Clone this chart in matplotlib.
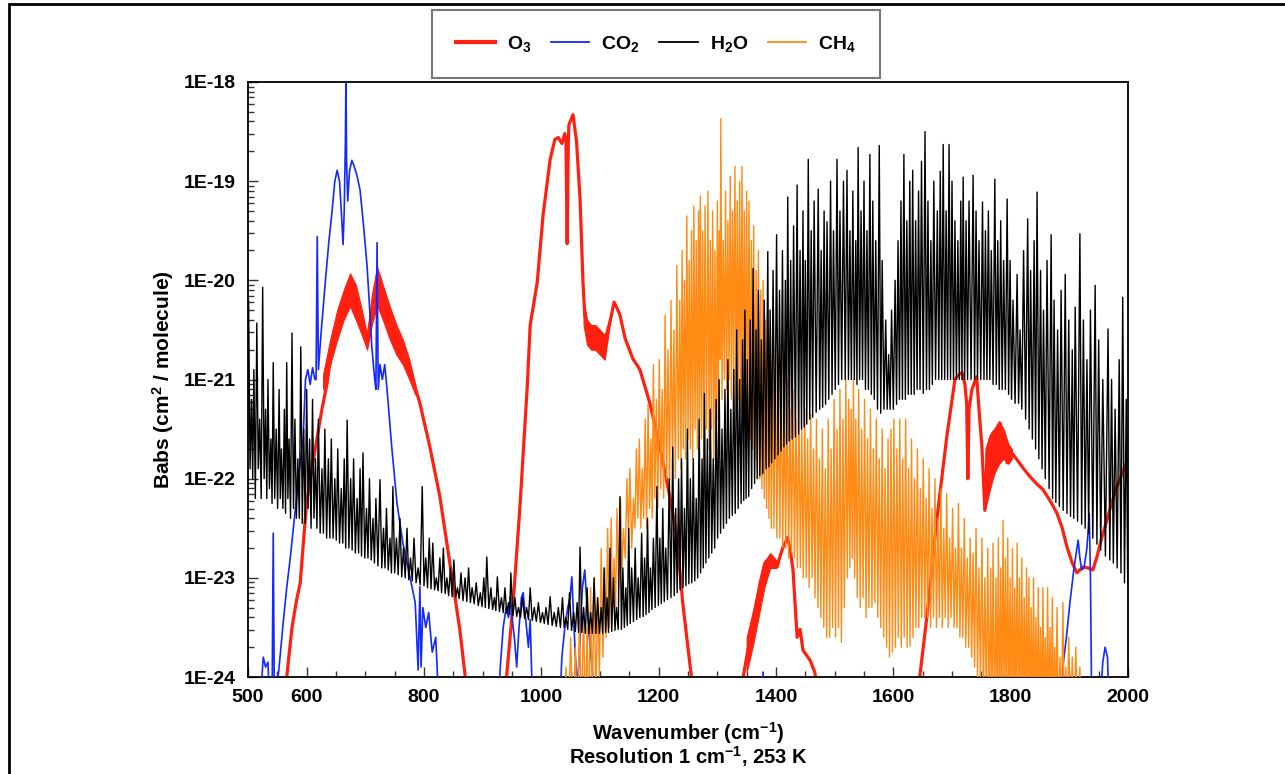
import numpy as np
import matplotlib
matplotlib.use("Agg")
import matplotlib.pyplot as plt
from matplotlib.lines import Line2D
from matplotlib.patches import Rectangle
from matplotlib.ticker import MultipleLocator, FixedLocator, FuncFormatter, NullFormatter

plt.rcParams['font.family'] = ['Liberation Sans', 'DejaVu Sans']
plt.rcParams['font.weight'] = 'bold'
plt.rcParams['mathtext.fontset'] = 'custom'
plt.rcParams['mathtext.rm'] = 'Liberation Sans:bold'
plt.rcParams['mathtext.it'] = 'Liberation Sans:bold'
plt.rcParams['mathtext.bf'] = 'Liberation Sans:bold'

# all values are log10(Babs) in cm^2/molecule
# O3: (wavenumber, log10 value)
o3_points = [
    (560, -24.5), (566, -24.0), (575, -23.5), (582, -23.25), (589, -23.05), (595, -22.6),
    (600, -22.24), (609, -21.9), (618, -21.58), (626, -21.3), (635, -21.03), (645, -20.6),
    (652, -20.4), (660, -20.3), (667, -20.15), (674, -20.05), (681, -20.2), (688, -20.3),
    (695, -20.45), (703, -20.63), (709, -20.4), (714, -20.2), (720, -20.05), (727, -20.15),
    (735, -20.3), (742, -20.4), (750, -20.55), (758, -20.7), (764, -20.75), (770, -20.85),
    (776, -20.9), (781, -21.0), (793, -21.24), (810, -21.68), (827, -22.18), (844, -22.85),
    (861, -23.52), (870, -23.98), (876, -24.5),
    (935, -24.5), (941, -23.98), (952, -23.25), (964, -22.24), (976, -21.07), (981, -20.45),
    (993, -20.02), (1003, -19.34), (1015, -18.78), (1023, -18.58), (1029, -18.56), (1035, -18.62),
    (1040, -18.52), (1042, -18.6), (1044, -19.63), (1046, -18.6), (1047, -18.43), (1054, -18.33),
    (1060, -18.6), (1066, -19.18), (1071, -20.02), (1074, -20.35), (1080, -20.52), (1088, -20.58),
    (1095, -20.55), (1102, -20.62), (1109, -20.69), (1113, -20.55), (1117, -20.42), (1124, -20.22),
    (1129, -20.28), (1134, -20.35), (1143, -20.59), (1156, -20.79), (1168, -20.9), (1185, -21.24),
    (1202, -21.68), (1219, -22.18), (1231, -22.59), (1241, -23.25), (1253, -23.86), (1258, -24.1),
    (1262, -24.5),
    (1340, -24.5), (1344, -24.0), (1356, -23.6), (1365, -23.3), (1373, -23.05), (1381, -22.85),
    (1390, -22.79), (1396, -22.82), (1402, -22.89), (1407, -22.78), (1412, -22.69), (1420, -22.59),
    (1425, -22.75), (1429, -22.92), (1433, -23.3), (1436, -23.6), (1441, -23.52), (1446, -23.73),
    (1458, -23.83), (1466, -23.95), (1470, -24.1), (1474, -24.5),
    (1640, -24.5), (1645, -24.0), (1657, -23.4), (1674, -22.42), (1691, -21.58), (1705, -21.0),
    (1712, -20.95), (1717, -20.93), (1722, -21.05), (1725, -21.24), (1727, -22.0), (1729, -21.3),
    (1734, -21.1), (1742, -20.97), (1746, -21.3), (1751, -21.68), (1756, -22.32), (1760, -21.74),
    (1765, -21.6), (1770, -21.54), (1776, -21.5), (1782, -21.44), (1788, -21.6), (1794, -21.84),
    (1802, -21.74), (1811, -21.81), (1822, -21.9), (1833, -21.98), (1844, -22.05), (1855, -22.11),
    (1867, -22.22), (1879, -22.35), (1888, -22.5), (1896, -22.69), (1905, -22.85), (1913, -22.95),
    (1918, -22.92), (1923, -22.89), (1932, -22.9), (1940, -22.92), (1947, -22.79), (1955, -22.6),
    (1964, -22.42), (1972, -22.25), (1981, -22.08), (1990, -21.95), (2000, -21.8),
]

# O3 regions where dense lines make a thick band: (wavenumber, upper, lower)
o3_band_v2 = [
    (628, -20.95, -21.1), (640, -20.6, -20.85), (652, -20.3, -20.6), (663, -20.1, -20.4),
    (674, -19.93, -20.26), (684, -20.05, -20.4), (694, -20.3, -20.55), (703, -20.55, -20.7),
    (711, -20.15, -20.45), (720, -19.86, -20.25), (730, -20.05, -20.4), (742, -20.27, -20.6),
    (753, -20.45, -20.75), (764, -20.6, -20.85), (775, -20.8, -21.0), (785, -21.05, -21.15),
]
o3_band_1080 = [
    (1072, -20.2, -20.45), (1078, -20.4, -20.65), (1085, -20.45, -20.7), (1092, -20.45, -20.7),
    (1100, -20.5, -20.75), (1108, -20.55, -20.8), (1115, -20.4, -20.5),
]
o3_band_1380 = [
    (1350, -23.6, -23.95), (1360, -23.35, -23.7), (1370, -23.1, -23.4), (1380, -22.85, -23.1),
    (1390, -22.75, -22.9), (1400, -22.82, -22.9),
]
o3_band_1780 = [
    (1757, -21.7, -22.3), (1765, -21.55, -22.1), (1772, -21.5, -21.95), (1780, -21.42, -21.85),
    (1788, -21.5, -21.8), (1796, -21.65, -21.85), (1802, -21.7, -21.8),
]

# CO2: (wavenumber, log10 value)
co2_points = [
    (518, -24.5), (526, -23.8), (530, -23.9), (534, -23.85), (537, -24.3), (541, -24.3),
    (543, -22.55), (545, -24.3), (548, -24.2), (553, -23.9), (560, -23.45), (566, -23.1),
    (572, -22.8), (580, -22.35), (587, -21.95), (594, -21.58), (598, -21.0), (602, -20.9),
    (606, -21.05), (610, -20.88), (614, -21.0), (616, -21.0), (618, -19.56), (620, -20.9),
    (625, -20.5), (632, -20.0), (638, -19.6), (643, -19.32), (648, -19.0), (652, -18.89),
    (656, -19.0), (659, -19.3), (662, -19.64), (664, -19.3), (666, -18.6), (667, -17.9),
    (668, -18.8), (670, -19.2), (673, -18.9), (677, -18.79), (681, -18.85), (686, -18.95),
    (691, -19.09), (697, -19.45), (703, -19.86), (707, -20.25), (711, -20.67), (716, -21.0),
    (718, -21.1), (720, -19.62), (722, -21.1), (725, -20.85), (729, -21.0), (733, -20.85),
    (737, -21.1), (745, -21.68), (754, -22.25), (764, -22.65), (776, -22.99), (785, -23.25),
    (790, -23.93), (793, -23.09), (795, -23.9), (798, -23.3), (803, -23.5), (808, -23.35),
    (814, -23.75), (820, -23.6), (827, -24.5),
    (925, -24.5), (930, -23.9), (935, -23.5), (940, -23.3), (944, -23.4), (947, -23.19),
    (950, -23.4), (954, -23.6), (958, -23.9), (962, -23.5), (966, -23.2), (969, -23.15),
    (973, -23.4), (978, -23.7), (981, -23.42), (986, -24.5),
    (1030, -24.5), (1035, -23.8), (1040, -23.5), (1045, -23.3), (1049, -23.2), (1052, -22.99),
    (1055, -23.4), (1058, -23.8), (1062, -24.1), (1066, -23.6), (1070, -23.1), (1074, -22.92),
    (1078, -23.3), (1083, -23.7), (1088, -24.0), (1091, -24.5),
    (1375, -24.5), (1378, -23.95), (1381, -24.5),
    (1885, -24.5), (1889, -23.9), (1895, -23.6), (1901, -23.25), (1908, -22.9), (1915, -22.62),
    (1918, -22.8), (1921, -22.92), (1925, -22.9), (1930, -22.7), (1934, -22.35), (1936, -23.0),
    (1938, -24.2), (1950, -24.5), (1957, -23.85), (1961, -23.7), (1965, -23.8), (1969, -24.5),
    (2000, -24.5),
]

# H2O lines: (wavenumber, peak, trough before the line)
h2o_lines = [
    (501, -20.2, -22.15), (506, -21.2, -21.9), (510, -20.9, -22.0), (515, -20.43, -22.2),
    (520, -21.4, -21.9), (525, -20.07, -22.2), (530, -21.3, -22.0), (534, -21.0, -22.2),
    (539, -21.6, -22.1), (543, -20.83, -22.25), (548, -21.5, -22.2), (553, -21.1, -22.3),
    (557, -21.7, -22.2), (562, -21.3, -22.3), (566, -20.83, -22.35), (570, -21.6, -22.2),
    (575, -20.53, -22.4), (580, -21.4, -22.3), (585, -21.8, -22.4), (590, -20.67, -22.4),
    (595, -21.5, -22.45), (600, -21.1, -22.45), (605, -21.6, -22.3), (610, -21.2, -22.5),
    (615, -21.8, -22.4), (620, -21.4, -22.5), (626, -21.9, -22.55), (631, -21.5, -22.55),
    (637, -21.8, -22.6), (642, -21.6, -22.6), (648, -22.0, -22.6), (653, -21.7, -22.62),
    (659, -22.1, -22.65), (664, -21.8, -22.65), (669, -21.41, -22.7), (675, -22.0, -22.7),
    (680, -21.8, -22.72), (686, -22.2, -22.75), (691, -21.9, -22.75), (696, -21.74, -22.78),
    (702, -22.3, -22.8), (707, -22.0, -22.8), (713, -22.4, -22.82), (718, -22.2, -22.85),
    (725, -22.01, -22.88), (731, -22.5, -22.9), (736, -22.3, -22.9), (742, -22.6, -22.92),
    (747, -22.08, -22.95), (753, -22.6, -22.95), (759, -22.4, -22.97), (765, -22.7, -22.99),
    (771, -22.5, -23.0), (777, -22.8, -23.02), (783, -22.6, -23.03), (790, -22.9, -23.05),
    (797, -22.08, -23.07), (803, -22.8, -23.08), (809, -22.6, -23.1), (815, -22.65, -23.11),
    (821, -23.0, -23.12), (827, -22.8, -23.13), (833, -22.7, -23.15), (839, -23.0, -23.16),
    (845, -22.9, -23.18), (851, -22.82, -23.19), (857, -23.1, -23.2), (863, -22.95, -23.21),
    (870, -23.0, -23.23), (876, -22.9, -23.24), (882, -23.1, -23.25), (889, -23.05, -23.26),
    (896, -23.15, -23.28), (902, -23.0, -23.29), (907, -22.79, -23.3), (914, -23.1, -23.31),
    (920, -23.2, -23.32), (925, -22.99, -23.33), (932, -23.2, -23.34), (938, -23.1, -23.35),
    (944, -23.25, -23.36), (948, -22.95, -23.37), (955, -23.2, -23.38), (961, -23.3, -23.39),
    (968, -23.2, -23.4), (975, -23.3, -23.41), (981, -23.1, -23.42), (988, -23.3, -23.43),
    (995, -23.25, -23.44), (1002, -23.35, -23.45), (1008, -23.3, -23.46), (1015, -23.19, -23.47),
    (1022, -23.35, -23.48), (1029, -23.3, -23.49), (1036, -23.2, -23.5), (1042, -23.4, -23.5),
    (1048, -23.15, -23.52), (1055, -23.35, -23.53), (1061, -23.25, -23.54), (1066, -22.69, -23.55),
    (1072, -23.3, -23.55), (1078, -23.1, -23.56), (1084, -23.35, -23.56), (1090, -23.0, -23.56),
    (1096, -23.2, -23.56), (1102, -23.3, -23.56), (1107, -22.9, -23.56), (1112, -23.2, -23.55),
    (1117, -22.7, -23.55), (1123, -23.0, -23.54), (1128, -23.3, -23.53), (1134, -22.18, -23.52),
    (1139, -22.9, -23.52), (1144, -23.1, -23.5), (1149, -22.5, -23.48), (1154, -22.9, -23.46),
    (1160, -22.7, -23.44), (1165, -23.0, -23.42), (1171, -22.55, -23.4), (1176, -22.8, -23.39),
    (1181, -22.4, -23.37), (1186, -22.9, -23.35), (1191, -22.6, -23.32), (1197, -22.08, -23.3),
    (1202, -22.6, -23.28), (1207, -22.3, -23.26), (1212, -22.7, -23.24), (1218, -22.0, -23.22),
    (1224, -21.68, -23.2), (1229, -22.3, -23.18), (1234, -22.0, -23.15), (1239, -21.8, -23.12),
    (1244, -22.3, -23.1), (1249, -21.5, -23.08), (1254, -22.0, -23.06), (1259, -21.8, -23.05),
    (1264, -22.2, -23.03), (1269, -21.4, -23.0), (1274, -21.8, -22.95), (1278, -21.14, -22.9),
    (1283, -21.6, -22.85), (1288, -21.3, -22.8), (1293, -21.8, -22.75), (1298, -21.2, -22.7),
    (1303, -21.0, -22.6), (1308, -21.5, -22.55), (1313, -21.1, -22.5), (1318, -20.8, -22.45),
    (1323, -21.3, -22.4), (1328, -20.9, -22.37), (1333, -20.5, -22.35), (1338, -21.0, -22.3),
    (1343, -20.6, -22.25), (1347, -20.3, -22.22), (1351, -20.8, -22.2), (1356, -20.4, -22.18),
    (1361, -19.88, -22.1), (1366, -20.5, -22.05), (1370, -20.1, -22.0), (1375, -20.6, -21.97),
    (1380, -20.2, -21.95), (1386, -19.71, -21.9), (1390, -20.3, -21.88), (1395, -19.9, -21.84),
    (1401, -19.54, -21.8), (1406, -20.1, -21.76), (1411, -19.7, -21.72), (1416, -20.0, -21.68),
    (1420, -19.16, -21.65), (1425, -19.8, -21.62), (1430, -19.45, -21.6), (1436, -19.04, -21.58),
    (1441, -19.7, -21.55), (1446, -19.3, -21.5), (1450, -19.8, -21.48), (1455, -18.78, -21.45),
    (1460, -19.5, -21.4), (1465, -19.2, -21.38), (1472, -19.08, -21.33), (1477, -19.7, -21.3),
    (1482, -19.3, -21.28), (1487, -19.41, -21.25), (1493, -19.0, -21.2), (1498, -19.5, -21.15),
    (1504, -18.78, -21.1), (1509, -19.3, -21.05), (1515, -19.0, -21.0), (1521, -18.89, -21.0),
    (1526, -19.5, -21.0), (1531, -19.1, -21.0), (1536, -19.6, -21.0), (1540, -18.66, -21.05),
    (1545, -19.3, -21.0), (1550, -19.0, -21.0), (1555, -19.5, -21.1), (1560, -18.73, -21.1),
    (1565, -19.2, -21.15), (1570, -19.6, -21.2), (1576, -18.64, -21.3), (1581, -19.8, -21.34),
    (1587, -20.4, -21.3), (1592, -20.75, -21.3), (1597, -20.3, -21.3), (1603, -20.0, -21.3),
    (1608, -19.6, -21.25), (1613, -19.2, -21.2), (1618, -18.73, -21.2), (1623, -19.4, -21.2),
    (1628, -19.0, -21.15), (1633, -18.89, -21.15), (1638, -19.4, -21.15), (1643, -19.1, -21.1),
    (1648, -18.8, -21.1), (1654, -18.5, -21.14), (1659, -19.2, -21.1), (1664, -19.6, -21.1),
    (1669, -19.0, -21.05), (1675, -19.3, -21.0), (1680, -18.9, -21.0), (1685, -18.63, -21.0),
    (1690, -19.3, -21.0), (1695, -18.63, -21.0), (1700, -19.0, -21.0), (1705, -19.4, -21.0),
    (1710, -19.6, -21.0), (1715, -19.2, -21.0), (1719, -18.96, -21.0), (1724, -19.4, -21.0),
    (1729, -19.2, -21.0), (1736, -18.94, -21.0), (1741, -19.3, -21.0), (1746, -19.6, -21.0),
    (1752, -19.21, -21.0), (1757, -19.5, -21.0), (1762, -19.3, -21.0), (1767, -19.7, -21.0),
    (1773, -18.98, -21.05), (1778, -19.6, -21.05), (1783, -19.4, -21.1), (1788, -19.8, -21.1),
    (1794, -19.18, -21.1), (1799, -19.8, -21.15), (1804, -20.2, -21.2), (1811, -19.94, -21.24),
    (1816, -20.5, -21.24), (1822, -19.7, -21.3), (1829, -19.38, -21.4), (1834, -19.9, -21.5),
    (1840, -19.6, -21.6), (1845, -19.11, -21.7), (1851, -19.9, -21.8), (1856, -20.3, -21.9),
    (1862, -19.8, -22.0), (1869, -19.54, -22.1), (1874, -20.2, -22.2), (1880, -20.5, -22.24),
    (1886, -20.1, -22.28), (1893, -19.94, -22.32), (1899, -20.4, -22.35), (1905, -20.7, -22.38),
    (1910, -20.27, -22.4), (1918, -19.53, -22.43), (1924, -20.4, -22.46), (1930, -20.8, -22.5),
    (1936, -20.3, -22.55), (1944, -20.05, -22.6), (1950, -20.6, -22.66), (1957, -21.0, -22.72),
    (1966, -20.49, -22.78), (1972, -21.0, -22.82), (1978, -21.3, -22.85), (1985, -20.8, -22.9),
    (1991, -20.17, -22.95), (1997, -21.2, -23.05),
]

# CH4 lines: (wavenumber, peak, trough before the line)
ch4_lines = [
    (1042, -23.9, -24.5), (1050, -23.6, -24.5), (1058, -23.7, -24.5), (1065, -23.4, -24.5),
    (1072, -23.3, -24.5), (1078, -23.5, -24.5), (1084, -23.1, -24.5), (1090, -23.0, -24.3),
    (1096, -23.2, -24.2), (1102, -22.7, -24.0), (1108, -22.9, -23.8), (1113, -22.5, -23.6),
    (1119, -22.4, -23.5), (1124, -22.8, -23.3), (1129, -22.3, -23.3), (1135, -22.2, -23.1),
    (1140, -22.5, -22.9), (1146, -22.0, -22.8), (1151, -21.9, -22.6), (1157, -22.2, -22.7),
    (1162, -21.7, -22.5), (1167, -21.6, -22.4), (1172, -21.9, -22.5), (1177, -21.4, -22.4),
    (1182, -21.25, -22.5), (1187, -21.6, -22.3), (1191, -20.85, -22.4), (1196, -21.2, -22.2),
    (1201, -20.8, -22.3), (1206, -21.1, -22.1), (1211, -20.35, -22.2), (1216, -20.7, -22.0),
    (1221, -20.2, -22.1), (1226, -20.5, -21.9), (1231, -19.85, -22.0), (1236, -20.2, -21.8),
    (1240, -19.7, -21.9), (1244, -20.0, -21.7), (1248, -19.35, -21.8), (1252, -19.8, -21.6),
    (1256, -19.5, -21.7), (1260, -19.25, -21.8), (1264, -19.6, -21.5), (1268, -19.3, -21.7),
    (1271, -19.15, -21.4), (1275, -19.5, -21.6), (1279, -19.25, -21.8), (1284, -19.1, -21.5),
    (1288, -19.6, -21.7), (1292, -19.3, -21.5), (1296, -19.7, -21.8), (1300, -19.2, -21.6),
    (1303, -19.5, -21.4), (1306, -18.37, -20.8), (1310, -19.6, -21.2), (1314, -19.1, -21.0),
    (1318, -19.4, -21.1), (1322, -18.95, -21.0), (1326, -19.3, -21.2), (1330, -18.85, -21.0),
    (1334, -19.2, -21.3), (1338, -19.0, -21.2), (1342, -18.85, -21.3), (1346, -19.3, -21.3),
    (1350, -19.1, -21.5), (1354, -19.2, -21.4), (1358, -19.6, -21.6), (1362, -19.45, -21.7),
    (1366, -19.9, -21.8), (1370, -19.7, -21.9), (1374, -20.1, -22.0), (1378, -20.0, -22.1),
    (1382, -20.4, -22.2), (1386, -20.3, -22.3), (1390, -20.55, -22.4), (1394, -20.8, -22.5),
    (1399, -20.7, -22.5), (1404, -21.0, -22.6), (1409, -20.9, -22.6), (1414, -21.2, -22.7),
    (1419, -21.0, -22.7), (1424, -21.3, -22.8), (1429, -21.1, -22.75), (1434, -21.4, -22.8),
    (1439, -21.2, -22.9), (1444, -21.5, -22.9), (1449, -21.3, -23.0), (1454, -21.6, -23.0),
    (1459, -21.35, -23.1), (1464, -21.7, -23.0), (1469, -21.4, -23.2), (1474, -21.8, -23.3),
    (1479, -21.5, -23.4), (1484, -21.9, -23.5), (1489, -21.4, -23.6), (1494, -21.7, -23.6),
    (1499, -21.2, -23.5), (1504, -21.5, -23.6), (1509, -21.1, -23.5), (1514, -21.4, -23.65),
    (1519, -21.0, -23.3), (1524, -21.2, -23.0), (1528, -21.3, -22.9), (1532, -21.0, -22.8),
    (1536, -21.4, -23.0), (1541, -21.1, -23.2), (1546, -21.5, -23.3), (1551, -21.2, -23.2),
    (1556, -21.6, -23.4), (1561, -21.3, -23.3), (1566, -21.7, -23.3), (1571, -21.4, -23.25),
    (1576, -21.8, -23.4), (1581, -21.5, -23.5), (1586, -21.9, -23.6), (1591, -21.6, -23.7),
    (1596, -21.5, -23.8), (1601, -21.4, -23.75), (1606, -21.7, -23.7), (1611, -21.4, -23.6),
    (1616, -21.8, -23.7), (1621, -21.4, -23.6), (1626, -21.9, -23.7), (1631, -21.6, -23.69),
    (1636, -22.0, -23.6), (1641, -21.7, -23.5), (1646, -22.1, -23.5), (1651, -21.8, -23.4),
    (1656, -22.2, -23.4), (1661, -21.9, -23.4), (1666, -22.3, -23.5), (1671, -22.0, -23.4),
    (1676, -22.4, -23.5), (1681, -22.1, -23.4), (1686, -22.5, -23.5), (1691, -22.15, -23.4),
    (1696, -22.6, -23.5), (1701, -22.3, -23.4), (1706, -22.7, -23.5), (1711, -22.25, -23.5),
    (1716, -22.7, -23.6), (1721, -22.4, -23.6), (1726, -22.8, -23.7), (1731, -22.6, -23.7),
    (1736, -22.75, -23.8), (1741, -22.5, -23.9), (1746, -22.9, -24.0), (1751, -22.6, -24.1),
    (1756, -23.0, -24.2), (1761, -22.7, -24.3), (1766, -22.9, -24.5), (1770, -22.65, -24.5),
    (1775, -23.0, -24.5), (1779, -22.6, -24.5), (1783, -22.9, -24.5), (1787, -22.42, -24.5),
    (1791, -22.8, -24.5), (1795, -22.6, -24.5), (1799, -23.0, -24.5), (1803, -22.7, -24.5),
    (1807, -23.1, -24.5), (1811, -22.65, -24.5), (1815, -23.0, -24.5), (1819, -22.8, -24.5),
    (1823, -23.2, -24.5), (1827, -22.9, -24.5), (1831, -23.0, -24.5), (1835, -23.3, -24.5),
    (1839, -23.0, -24.5), (1843, -23.4, -24.5), (1847, -23.1, -24.5), (1851, -23.5, -24.5),
    (1855, -23.1, -24.5), (1859, -23.6, -24.5), (1863, -23.1, -24.5), (1867, -23.5, -24.5),
    (1871, -23.2, -24.5), (1875, -23.7, -24.5), (1879, -23.3, -24.5), (1884, -23.8, -24.5),
    (1889, -23.25, -24.5), (1894, -23.9, -24.5), (1899, -23.6, -24.5), (1905, -23.8, -24.5),
    (1911, -23.7, -24.5), (1918, -23.9, -24.5),
]

legend_labels = ['O$_3$', 'CO$_2$', 'H$_2$O', 'CH$_4$']
colors = {'O3': '#ff2010', 'CO2': '#1428ff', 'H2O': '#000000', 'CH4': '#ff8a14'}
x_ticks = [500, 600, 800, 1000, 1200, 1400, 1600, 1800, 2000]
y_decades = [-24, -23, -22, -21, -20, -19, -18]


def curve(points):
    wn, lg = np.array(points, dtype=float).T
    return wn, 10.0 ** lg


def line_spectrum(lines):
    # zig-zag through trough -> peak for every line
    wn, peak, foot = np.array(lines, dtype=float).T
    mids = np.concatenate([[wn[0] - 2.5], (wn[:-1] + wn[1:]) / 2])
    x = np.column_stack([mids, wn]).ravel()
    y = np.column_stack([foot, peak]).ravel()
    x = np.append(x, wn[-1] + 2.5)
    y = np.append(y, foot[-1])
    return x, 10.0 ** y


def band(ax, rows, color, z):
    wn, hi, lo = np.array(rows, dtype=float).T
    ax.fill_between(wn, 10.0 ** lo, 10.0 ** hi, color=color, lw=0.8, zorder=z)


W, H = 1285, 774
fig = plt.figure(figsize=(W / 100, H / 100), dpi=100)
ax = fig.add_axes([248 / W, 1 - 677 / H, 880 / W, 595 / H])

x, y = curve(o3_points)
ax.plot(x, y, color=colors['O3'], lw=2.3, zorder=2)
for rows in (o3_band_v2, o3_band_1080, o3_band_1380, o3_band_1780):
    band(ax, rows, colors['O3'], 2)

x, y = curve(co2_points)
ax.plot(x, y, color=colors['CO2'], lw=1.2, zorder=3)

x, y = line_spectrum(ch4_lines)
ax.plot(x, y, color=colors['CH4'], lw=1.0, zorder=4)

x, y = line_spectrum(h2o_lines)
ax.plot(x, y, color=colors['H2O'], lw=1.0, zorder=5)

ax.set_yscale('log')
ax.set_xlim(500, 2000)
ax.set_ylim(1e-24, 1e-18)

ax.set_xticks(x_ticks)
ax.xaxis.set_minor_locator(MultipleLocator(50))
major_y = [10.0 ** d for d in y_decades]
minor_y = [m * 10.0 ** d for d in y_decades[:-1] for m in range(2, 10)]
ax.yaxis.set_major_locator(FixedLocator(major_y))
ax.yaxis.set_minor_locator(FixedLocator(minor_y))
ax.yaxis.set_major_formatter(FuncFormatter(lambda v, p: '1E%d' % round(np.log10(v))))
ax.yaxis.set_minor_formatter(NullFormatter())
ax.tick_params(which='both', direction='in', top=False, right=False, width=1, color='#333333')
ax.tick_params(which='major', length=7, labelsize=14, pad=9)
ax.tick_params(which='minor', length=4)
for lab in ax.get_xticklabels() + ax.get_yticklabels():
    lab.set_fontweight('bold')
for sp in ax.spines.values():
    sp.set_linewidth(1.3)

fig.text(163 / W, 1 - 380 / H, 'Babs (cm$^{2}$ / molecule)', rotation=90,
         ha='center', va='center', fontsize=15, fontweight='bold')
fig.text(688 / W, 1 - 733 / H, 'Wavenumber (cm$^{-1}$)',
         ha='center', va='center', fontsize=14.5, fontweight='bold')
fig.text(688 / W, 1 - 757 / H, 'Resolution 1 cm$^{-1}$, 253 K',
         ha='center', va='center', fontsize=14.5, fontweight='bold')

handles = [Line2D([], [], color=colors['O3'], lw=3),
           Line2D([], [], color=colors['CO2'], lw=1.3),
           Line2D([], [], color=colors['H2O'], lw=1.3),
           Line2D([], [], color=colors['CH4'], lw=1.3)]
leg = fig.legend(handles, legend_labels, loc='center', bbox_to_anchor=(656 / W, 1 - 44 / H),
                 ncol=4, fontsize=14, frameon=True, fancybox=False, edgecolor='#555555',
                 handlelength=2.0, handletextpad=0.6, columnspacing=1.0, borderpad=1.25)
leg.get_frame().set_linewidth(1.5)
for t in leg.get_texts():
    t.set_fontweight('bold')

# outer frame of the original screenshot
fig.add_artist(Rectangle((9 / W, -0.1), 1.2, 1.1 - 4 / H, transform=fig.transFigure,
                         fill=False, edgecolor='black', lw=2.0, clip_on=False))

fig.savefig('out.png', dpi=100)
